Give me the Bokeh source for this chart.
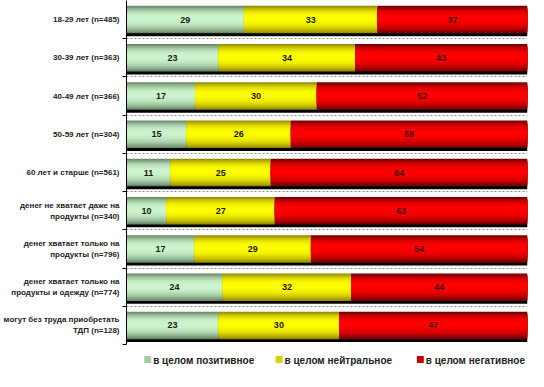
from bokeh.plotting import figure
from bokeh.models import FixedTicker
from bokeh.layouts import column
from bokeh.core.properties import value
from bokeh.embed import file_html
from bokeh.resources import INLINE

categories = [
    "18-29 лет (n=485)",
    "30-39 лет (n=363)",
    "40-49 лет (n=366)",
    "50-59 лет (n=304)",
    "60 лет и старше (n=561)",
    "денег не хватает даже на\nпродукты (n=340)",
    "денег хватает только на\nпродукты (n=796)",
    "денег хватает только на\nпродукты и одежду (n=774)",
    "могут без труда приобретать\nТДП (n=128)",
]
positive = [29, 23, 17, 15, 11, 10, 17, 24, 23]
neutral = [33, 34, 30, 26, 25, 27, 29, 32, 30]
negative = [37, 43, 52, 59, 64, 63, 54, 44, 47]
series_names = ["в целом позитивное", "в целом нейтральное", "в целом негативное"]
base_colors = [(205, 245, 205), (255, 255, 0), (255, 0, 0)]
dark_colors = [(105, 135, 105), (150, 140, 0), (115, 0, 0)]
label_colors = ["#1a1a1a", "#1a1a1a", "#4a0000"]

n = len(categories)
centers = [n - 0.5 - i for i in range(n)]
series = [positive, neutral, negative]
totals = [positive[i] + neutral[i] + negative[i] for i in range(n)]
norm = [[s[i] * 100.0 / totals[i] for i in range(n)] for s in series]

font = "Liberation Sans"
p = figure(width=528, height=348, output_backend="svg", toolbar_location=None,
           x_range=(0, 100), y_range=(0, n),
           min_border_left=121, min_border_right=1, min_border_top=0, min_border_bottom=4)
p.outline_line_color = None
p.xaxis.visible = False
p.xgrid.visible = False

bar_h = 0.72
# shadow
p.hbar(y=[c - 0.075 for c in centers], left=[0] * n, right=[100.7] * n, height=bar_h,
       fill_color="black", line_color=None)

nb = 12
lefts = [0.0] * n
mid_colors = []
for k in range(3):
    rights = [lefts[i] + norm[k][i] for i in range(n)]
    for b in range(nb):
        frac = 1.0 - b / nb          # band height fraction, outer -> inner
        f = frac ** 2.4
        r, g, bl = [int(base_colors[k][j] * (1 - f) + dark_colors[k][j] * f) for j in range(3)]
        col = "#%02x%02x%02x" % (r, g, bl)
        h = bar_h * frac
        shift = 0.04 * (1 - frac)
        yy = [c + shift for c in centers]
        p.hbar(y=yy, left=lefts, right=rights, height=h,
               fill_color=col, line_color=None)
        if b == nb // 3:
            mid_colors.append(col)
    mids = [(lefts[i] + rights[i]) / 2 for i in range(n)]
    p.text(x=mids, y=centers, text=[str(v) for v in series[k]],
           text_align="center", text_baseline="middle",
           text_font=value(font), text_font_style="bold", text_font_size="9px",
           text_color=label_colors[k])
    lefts = rights

ax = p.yaxis[0]
ax.ticker = FixedTicker(ticks=centers, minor_ticks=list(range(0, n)))
ax.major_label_overrides = {centers[i]: categories[i] for i in range(n)}
ax.major_tick_line_color = None
ax.major_tick_out = 0
ax.major_tick_in = 0
ax.minor_tick_out = 4
ax.minor_tick_in = 0
ax.minor_tick_line_color = "black"
ax.axis_line_color = "black"
ax.major_label_text_font = font
ax.major_label_text_font_style = "bold"
ax.major_label_text_font_size = "8px"
ax.major_label_text_color = "#222222"
ax.major_label_text_align = "center"
ax.major_label_standoff = 3

p.ygrid.grid_line_color = None
p.ygrid.minor_grid_line_color = "#8a8a8a"
p.ygrid.minor_grid_line_dash = "2 2"
p.ygrid.ticker = FixedTicker(ticks=[], minor_ticks=list(range(1, n)))

# legend strip: its frame is aligned with the chart frame (406 px wide)
frame_w, leg_h = 406, 23
leg = figure(width=528, height=leg_h, output_backend="svg", toolbar_location=None,
             x_range=(0, frame_w), y_range=(0, leg_h), x_axis_type=None, y_axis_type=None,
             min_border_left=121, min_border_right=1, min_border_top=0, min_border_bottom=0)
leg.outline_line_color = None
leg.grid.visible = False
item_x = [18, 151, 294]
leg.rect(x=[ix + 3.5 for ix in item_x], y=[leg_h / 2 + 0.5] * 3, width=7, height=7,
         fill_color=mid_colors, line_color=None)
leg.text(x=[ix + 9 for ix in item_x], y=[leg_h / 2] * 3, text=series_names,
         text_baseline="middle", text_align="left",
         text_font=value(font), text_font_style="bold", text_font_size="10px",
         text_color="#222222")

layout = column(p, leg, spacing=0)
open("out.html", "w").write(file_html(layout, INLINE))
